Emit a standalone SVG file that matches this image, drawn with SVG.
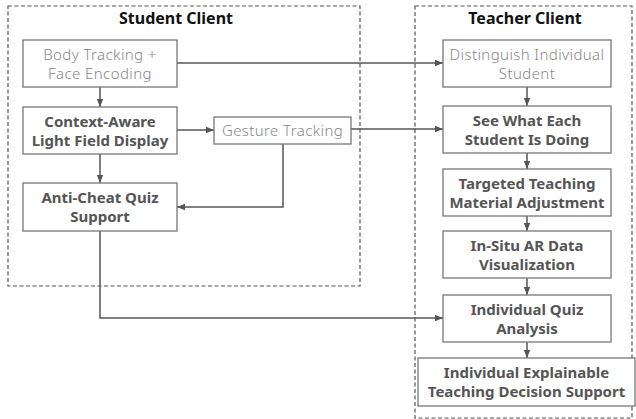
<svg xmlns="http://www.w3.org/2000/svg" width="636" height="419" viewBox="0 0 636 419">
<defs>
<marker id="ah" viewBox="0 0 8 8" refX="8" refY="4" markerWidth="8" markerHeight="8" markerUnits="userSpaceOnUse" orient="auto">
<path d="M0,0.8 L8,4 L0,7.2 Z" fill="#555"/>
</marker>
</defs>
<style>
.grp{fill:none;stroke:#555;stroke-width:1.2;stroke-dasharray:4,2.5}
.box{fill:#fff;stroke:#777;stroke-width:1.3}
.t{font-family:"Noto Sans","Open Sans",sans-serif;font-size:15px;text-anchor:middle}
.b{font-weight:bold;fill:#555}
.l{font-weight:300;fill:#888;letter-spacing:0.4px}
.title{font-family:"Noto Sans","Open Sans",sans-serif;font-size:16px;font-weight:bold;fill:#111;text-anchor:middle}
.c{fill:none;stroke:#555;stroke-width:1.5;marker-end:url(#ah)}
</style>
<rect class="grp" x="8" y="6" width="352" height="280"/>
<rect class="grp" x="415" y="6" width="217" height="412"/>
<text class="title" x="176" y="24">Student Client</text>
<text class="title" x="525" y="24">Teacher Client</text>
<g id="connectors">
<path class="c" d="M177,63 H443"/>
<path class="c" d="M100,87 V107"/>
<path class="c" d="M177,130 H214"/>
<path class="c" d="M351,129 H443"/>
<path class="c" d="M283,144 V207 H177"/>
<path class="c" d="M100,154 V183"/>
<path class="c" d="M100,231 V318 H443"/>
<path class="c" d="M527,87 V106"/>
<path class="c" d="M527,153 V169"/>
<path class="c" d="M527,216 V231"/>
<path class="c" d="M527,278 V295"/>
<path class="c" d="M527,342 V358"/>
</g>
<g id="body"><rect class="box" x="23" y="40" width="154" height="47"/><text class="t l" x="100" y="60">Body Tracking +</text><text class="t l" x="100" y="79">Face Encoding</text></g>
<g id="context"><rect class="box" x="23" y="107" width="154" height="47"/><text class="t b" x="100" y="127">Context-Aware</text><text class="t b" x="100" y="146">Light Field Display</text></g>
<g id="gesture"><rect class="box" x="214" y="117" width="137" height="27"/><text class="t l" x="282.5" y="136">Gesture Tracking</text></g>
<g id="anticheat"><rect class="box" x="23" y="183" width="154" height="48"/><text class="t b" x="100" y="203">Anti-Cheat Quiz</text><text class="t b" x="100" y="222">Support</text></g>
<g id="distinguish"><rect class="box" x="443" y="40" width="168" height="47"/><text class="t l" x="527" y="60">Distinguish Individual</text><text class="t l" x="527" y="79">Student</text></g>
<g id="seewhat"><rect class="box" x="443" y="106" width="168" height="47"/><text class="t b" x="527" y="126">See What Each</text><text class="t b" x="527" y="145">Student Is Doing</text></g>
<g id="targeted"><rect class="box" x="443" y="169" width="168" height="47"/><text class="t b" x="527" y="189">Targeted Teaching</text><text class="t b" x="527" y="208">Material Adjustment</text></g>
<g id="insitu"><rect class="box" x="443" y="231" width="168" height="47"/><text class="t b" x="527" y="251">In-Situ AR Data</text><text class="t b" x="527" y="270">Visualization</text></g>
<g id="quiz"><rect class="box" x="443" y="295" width="168" height="47"/><text class="t b" x="527" y="315">Individual Quiz</text><text class="t b" x="527" y="334">Analysis</text></g>
<g id="explain"><rect class="box" x="418" y="358" width="217" height="48"/><text class="t b" x="526.5" y="378">Individual Explainable</text><text class="t b" x="526.5" y="397">Teaching Decision Support</text></g>
</svg>
